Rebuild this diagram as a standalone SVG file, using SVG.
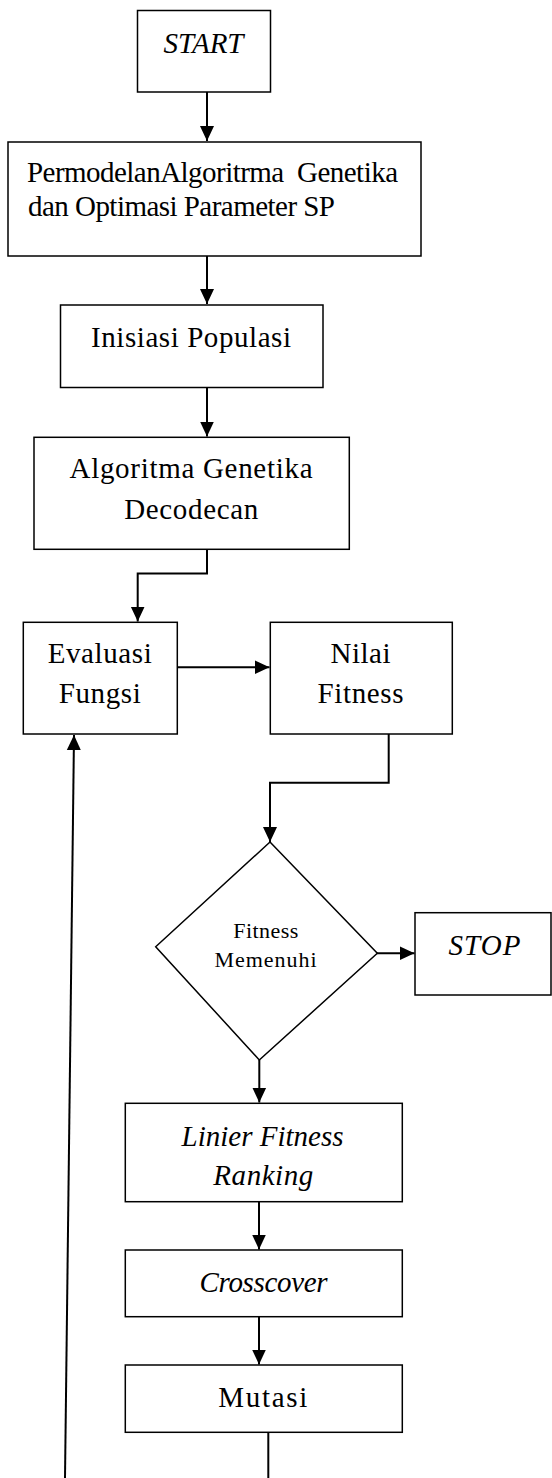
<svg xmlns="http://www.w3.org/2000/svg" width="552" height="1478" viewBox="0 0 552 1478">
<style>
.box{fill:#fff;stroke:#000;stroke-width:1.5}
.t{font-family:"Liberation Serif","Times New Roman",serif;font-size:29px;fill:#000}
.c{text-anchor:middle}
.i{font-style:italic}
.s{font-size:22px}
.con{fill:none;stroke:#000;stroke-width:2}
</style>
<defs>
<marker id="ah" markerUnits="userSpaceOnUse" markerWidth="16" markerHeight="16" viewBox="0 0 16 16" refX="15" refY="8" orient="auto">
<path d="M0,1 L15,8 L0,15 Z" fill="#000"/>
</marker>
</defs>
<rect width="552" height="1478" fill="#fff"/>
<g id="connectors">
<line class="con" x1="207" y1="92" x2="207" y2="141" marker-end="url(#ah)"/>
<line class="con" x1="207" y1="256" x2="207" y2="304" marker-end="url(#ah)"/>
<line class="con" x1="207" y1="388" x2="207" y2="436.5" marker-end="url(#ah)"/>
<polyline class="con" points="207,549 207,573.5 137.7,573.5 137.7,621.5" marker-end="url(#ah)"/>
<line class="con" x1="177" y1="667.3" x2="269.5" y2="667.3" marker-end="url(#ah)"/>
<polyline class="con" points="388.7,734 388.7,782.7 270,782.7 270,842" marker-end="url(#ah)"/>
<line class="con" x1="377" y1="953.3" x2="414.5" y2="953.3" marker-end="url(#ah)"/>
<line class="con" x1="259.3" y1="1060" x2="259.3" y2="1102.5" marker-end="url(#ah)"/>
<line class="con" x1="259" y1="1202" x2="259" y2="1249.5" marker-end="url(#ah)"/>
<line class="con" x1="259" y1="1317" x2="259" y2="1364.5" marker-end="url(#ah)"/>
<line class="con" x1="268.3" y1="1432" x2="268.3" y2="1478"/>
<line class="con" x1="65" y1="1478" x2="74" y2="735" marker-end="url(#ah)"/>
</g>
<g id="start">
<rect class="box" x="137.5" y="10.5" width="133" height="81.5"/>
<text class="t c i" x="203.5" y="53.3" textLength="80">START</text>
</g>
<g id="permodelan">
<rect class="box" x="8" y="142" width="413" height="114"/>
<text class="t" x="27" y="181.7" xml:space="preserve" textLength="371">PermodelanAlgoritrma  Genetika</text>
<text class="t" x="28" y="216" textLength="307">dan Optimasi Parameter SP</text>
</g>
<g id="inisiasi">
<rect class="box" x="60.5" y="305" width="262.5" height="82.5"/>
<text class="t c" x="191" y="346.7" textLength="200">Inisiasi Populasi</text>
</g>
<g id="decodecan">
<rect class="box" x="34" y="437.3" width="315.3" height="112"/>
<text class="t c" x="191" y="478.3" textLength="243">Algoritma Genetika</text>
<text class="t c" x="191.2" y="519" textLength="134">Decodecan</text>
</g>
<g id="evaluasi">
<rect class="box" x="23.3" y="622.3" width="154" height="111.7"/>
<text class="t c" x="99.7" y="663.3" textLength="104">Evaluasi</text>
<text class="t c" x="99.7" y="702.7" textLength="82">Fungsi</text>
</g>
<g id="nilai">
<rect class="box" x="270.3" y="622.3" width="182" height="111.7"/>
<text class="t c" x="360.5" y="663.3" textLength="60">Nilai</text>
<text class="t c" x="360.5" y="702.7" textLength="86">Fitness</text>
</g>
<g id="decision">
<polygon class="box" points="270,842 377.3,953.3 259.3,1060 155.7,946.7"/>
<text class="t c s" x="265.7" y="938.3" textLength="65">Fitness</text>
<text class="t c s" x="265.5" y="966.7" textLength="102">Memenuhi</text>
</g>
<g id="stop">
<rect class="box" x="415" y="912.7" width="136" height="82.3"/>
<text class="t c i" x="484.5" y="955" textLength="72">STOP</text>
</g>
<g id="ranking">
<rect class="box" x="125.3" y="1103.3" width="277" height="98.4"/>
<text class="t c i" x="262.5" y="1146" textLength="162">Linier Fitness</text>
<text class="t c i" x="263.3" y="1185" textLength="100">Ranking</text>
</g>
<g id="crossover">
<rect class="box" x="125.3" y="1250" width="277" height="66.7"/>
<text class="t c i" x="263.5" y="1292.3" textLength="128">Crosscover</text>
</g>
<g id="mutasi">
<rect class="box" x="125.3" y="1365" width="277" height="67.3"/>
<text class="t c" x="262.8" y="1407.3" textLength="89">Mutasi</text>
</g>
</svg>
